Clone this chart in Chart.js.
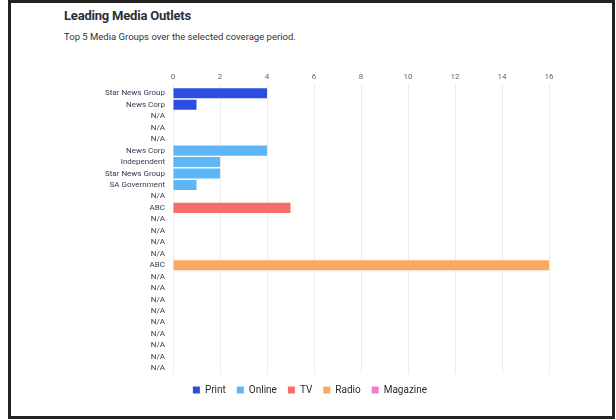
<!DOCTYPE html>
<html>
<head>
<meta charset="utf-8">
<script src="https://cdn.jsdelivr.net/npm/chart.js@4.4.1/dist/chart.umd.min.js"></script>
<style>
  html,body{margin:0;padding:0;background:#fff;width:616px;height:420px;overflow:hidden;font-family:Roboto,"Liberation Sans",sans-serif;}
  #frame{position:absolute;left:8px;top:0;width:607px;height:419px;box-sizing:border-box;border:3px solid #222;}
  #title{position:absolute;left:64px;top:8px;font-size:13px;font-weight:bold;color:#2b2f3a;letter-spacing:-0.2px;}
  #subtitle{position:absolute;left:64px;top:31px;font-size:9.5px;color:#333;}
  #wrap{position:absolute;left:55px;top:70px;width:510px;height:340px;}
</style>
</head>
<body>
<div id="frame"></div>
<div id="title">Leading Media Outlets</div>
<div id="subtitle">Top 5 Media Groups over the selected coverage period.</div>
<div id="wrap"><canvas id="c"></canvas></div>
<script>
// Media types (legend)
const mediaTypes = ["Print", "Online", "TV", "Radio", "Magazine"];
// Top 5 outlets per media type
const printOutlets = ["Star News Group", "News Corp", "N/A", "N/A", "N/A"];
const printValues = [4, 1, 0, 0, 0];
const onlineOutlets = ["News Corp", "Independent", "Star News Group", "SA Government", "N/A"];
const onlineValues = [4, 2, 2, 1, 0];
const tvOutlets = ["ABC", "N/A", "N/A", "N/A", "N/A"];
const tvValues = [5, 0, 0, 0, 0];
const radioOutlets = ["ABC", "N/A", "N/A", "N/A", "N/A"];
const radioValues = [16, 0, 0, 0, 0];
const magazineOutlets = ["N/A", "N/A", "N/A", "N/A", "N/A"];
const magazineValues = [0, 0, 0, 0, 0];
const xTicks = [0, 2, 4, 6, 8, 10, 12, 14, 16];

const colors = ["#2b4de0", "#5db7f6", "#f66e6c", "#f9a862", "#f07dcc"];
const groups = [
  [printOutlets, printValues],
  [onlineOutlets, onlineValues],
  [tvOutlets, tvValues],
  [radioOutlets, radioValues],
  [magazineOutlets, magazineValues]
];
const labels = [];
groups.forEach(g => g[0].forEach(l => labels.push(l)));
const datasets = groups.map((g, gi) => {
  const data = [];
  groups.forEach((h, hi) => h[1].forEach(v => data.push(hi === gi ? v : null)));
  return {label: mediaTypes[gi], data, backgroundColor: colors[gi], borderWidth: 0,
          barPercentage: 0.88, categoryPercentage: 1.0};
});

new Chart(document.getElementById('c'), {
  type: 'bar',
  data: {labels, datasets},
  options: {
    indexAxis: 'y',
    responsive: true,
    maintainAspectRatio: false,
    animation: false,
    layout: {padding: {left: 16, right: 16, top: 0, bottom: 5}},
    plugins: {
      legend: {
        position: 'bottom',
        labels: {boxWidth: 7, boxHeight: 7, padding: 11, color: '#2a2a2a',
                 font: {family: 'Roboto', size: 10}}
      },
      tooltip: {enabled: false}
    },
    scales: {
      x: {
        position: 'top',
        stacked: true,
        min: 0, max: 16,
        afterBuildTicks: s => { s.ticks = xTicks.map(v => ({value: v})); },
        ticks: {color: '#666', font: {family: 'Roboto', size: 8}, padding: 2},
        grid: {color: '#ececec', tickLength: 4, drawTicks: true},
        border: {display: false}
      },
      y: {
        stacked: true,
        afterFit: s => { s.width = 102; },
        ticks: {color: '#353a50', font: {family: 'Roboto', size: 8}, padding: 0, autoSkip: false},
        grid: {display: false},
        border: {display: false}
      }
    }
  }
});
</script>
</body>
</html>
